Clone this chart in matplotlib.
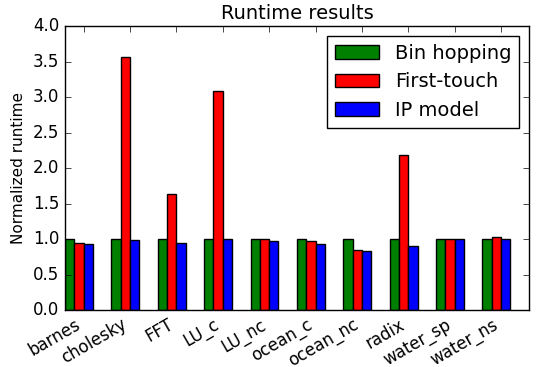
import numpy as np
import matplotlib
matplotlib.use('Agg')
import matplotlib.pyplot as plt

# Normalized runtime per benchmark for each placement policy
benchmarks = ['barnes', 'cholesky', 'FFT', 'LU_c', 'LU_nc',
              'ocean_c', 'ocean_nc', 'radix', 'water_sp', 'water_ns']
bin_hopping = [1.0, 1.0, 1.0, 1.0, 1.0, 1.0, 1.0, 1.0, 1.0, 1.0]
first_touch = [0.94, 3.56, 1.63, 3.08, 1.0, 0.975, 0.845, 2.19, 0.995, 1.03]
ip_model = [0.93, 0.985, 0.95, 1.0, 0.97, 0.935, 0.835, 0.90, 0.995, 1.0]

plt.style.use('classic')

fig = plt.figure(figsize=(5.38, 3.67), dpi=100)
ax = fig.add_axes([0.121, 0.155, 0.862, 0.774])

ind = np.arange(len(benchmarks))
width = 0.2

ax.bar(ind, bin_hopping, width, color='g', align='edge', label='Bin hopping')
ax.bar(ind + width, first_touch, width, color='r', align='edge', label='First-touch')
ax.bar(ind + 2 * width, ip_model, width, color='b', align='edge', label='IP model')

ax.set_xlim(0, len(benchmarks))
ax.set_ylim(0, 4.0)
ax.set_yticks(np.arange(0, 4.01, 0.5))
ax.set_xticks(ind + 2 * width)
ax.set_xticklabels(benchmarks, rotation=30, ha='right', fontsize=12)
ax.tick_params(axis='y', labelsize=12)

ax.set_ylabel('Normalized runtime', fontsize=11)
ax.set_title('Runtime results', fontsize=14)
ax.legend(loc='upper right', fontsize=14, handlelength=2.3)

fig.savefig('out.png', dpi=100)
